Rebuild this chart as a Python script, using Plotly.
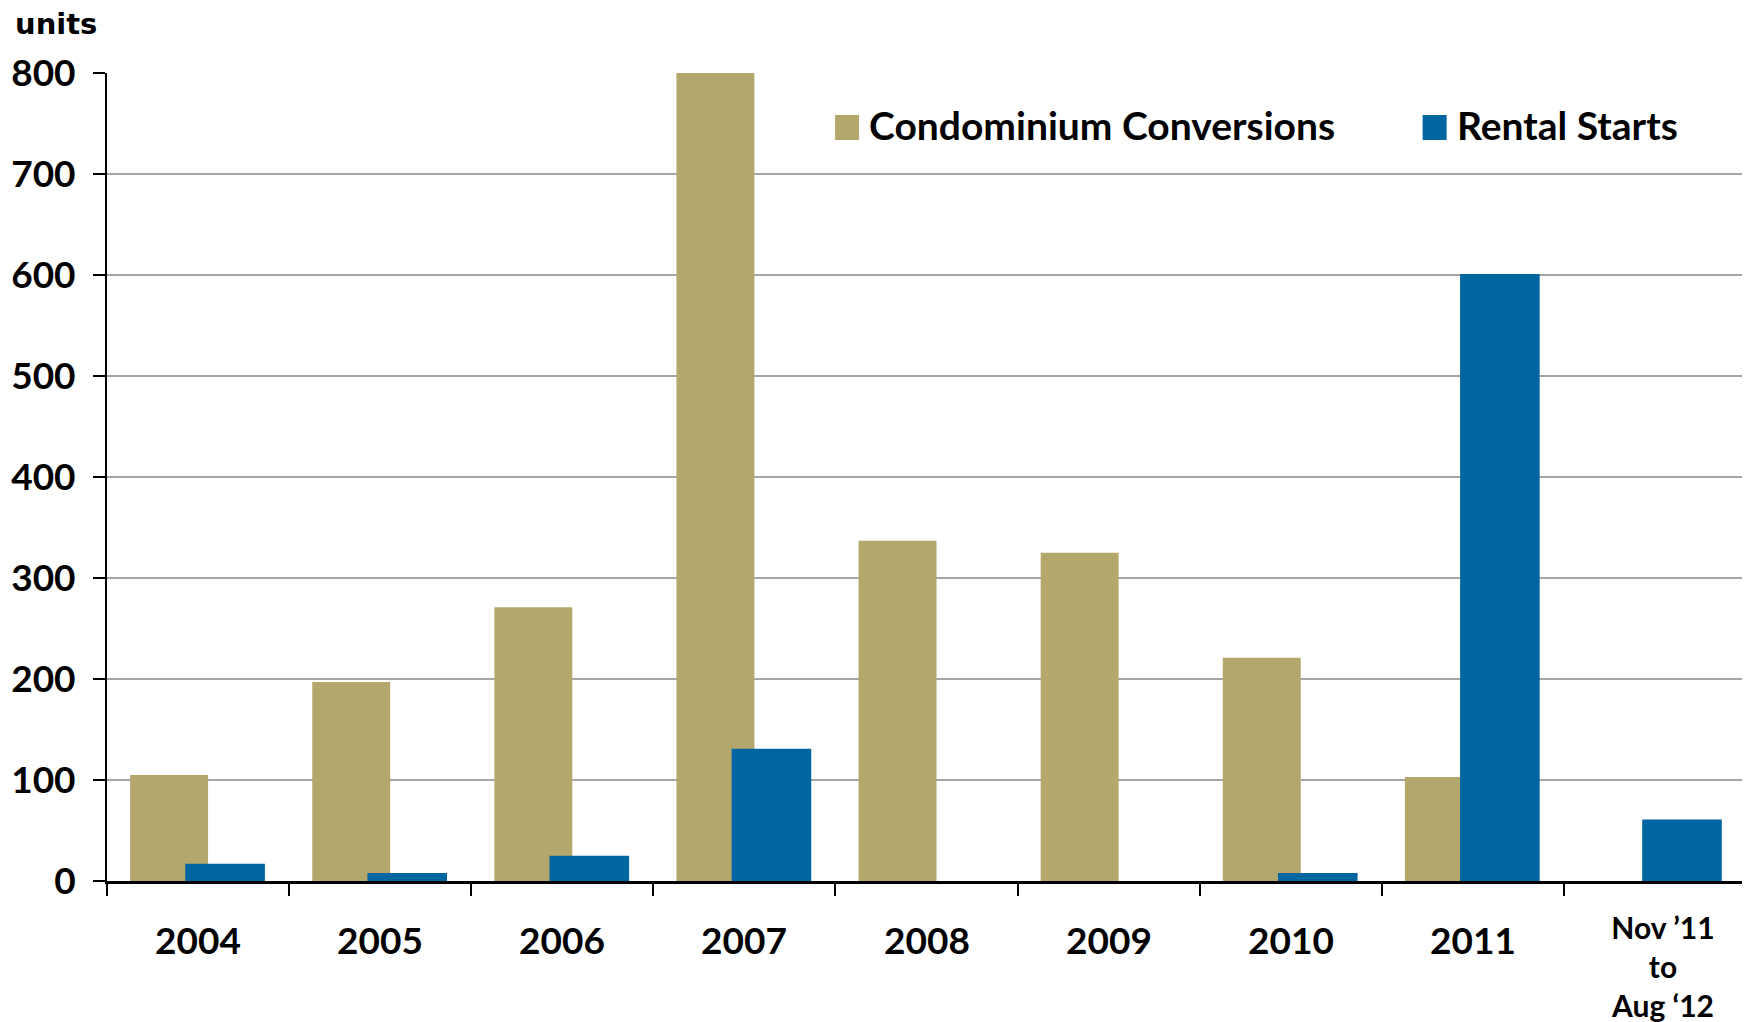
import plotly.graph_objects as go

categories = ["2004", "2005", "2006", "2007", "2008", "2009", "2010", "2011", "Nov11-Aug12"]
tick_labels = ["2004", "2005", "2006", "2007", "2008", "2009", "2010", "2011",
               "Nov \u201911<br>to<br>Aug \u201812"]
condo = [105, 197, 271, 800, 337, 325, 221, 103, 0]
rental = [17, 8, 25, 131, 0, 0, 8, 601, 61]
series_names = ["Condominium Conversions", "Rental Starts"]
y_ticks = [0, 100, 200, 300, 400, 500, 600, 700, 800]

TAN = "#B3A76C"
BLUE = "#0066A1"
GRID = "#A6A6A6"
FONT = "Lato"

fig = go.Figure()
fig.add_trace(go.Bar(x=categories, y=condo, name=series_names[0], marker_color=TAN,
                     marker_line_width=0, width=0.428, offset=-0.373, showlegend=False))
fig.add_trace(go.Bar(x=categories, y=rental, name=series_names[1], marker_color=BLUE,
                     marker_line_width=0, width=0.437, offset=-0.07, showlegend=False))

fig.update_layout(
    width=1742, height=1014,
    margin=dict(l=99, r=4, t=65, b=141, autoexpand=False),
    barmode="overlay",
    plot_bgcolor="white", paper_bgcolor="white",
    font=dict(family=FONT, size=34, color="black"),
    showlegend=False,
)
fig.update_xaxes(
    type="category", categoryorder="array", categoryarray=categories,
    range=[-0.5, len(categories) - 0.5], autorange=False,
    tickmode="array", tickvals=categories, showticklabels=False,
    tickson="boundaries", ticks="outside", ticklen=12, tickwidth=2, tickcolor="black",
    showline=True, linecolor="black", linewidth=3, showgrid=False, automargin=False,
)
fig.update_yaxes(
    range=[0, 800], tickvals=y_ticks, ticks="outside", ticklen=12, tickwidth=2,
    tickcolor="black", showline=True, linecolor="black", linewidth=2,
    showgrid=True, gridcolor=GRID, gridwidth=2, zeroline=False, automargin=False,
    tickfont=dict(family=FONT, size=37, color="black", weight="bold"),
    ticklabelstandoff=10,
)

# category labels under the axis (one per category, placed at the category index)
for i, lab in enumerate(tick_labels):
    multi = "<br>" in lab
    fig.add_annotation(
        text=lab, x=i, xref="x", yref="paper",
        y=-0.1048 if multi else -0.072, yanchor="middle", xanchor="center",
        xshift=8 if multi else 0, showarrow=False,
        font=dict(family=FONT, size=30 if multi else 37, color="black", weight="bold"),
    )

# right border of plot area
fig.add_shape(type="line", xref="paper", yref="paper", x0=1, x1=1, y0=0, y1=1,
              line=dict(color=GRID, width=2))

# axis unit label
fig.add_annotation(text="units", xref="paper", yref="paper", x=-0.0574, y=1.0611,
                   xanchor="left", yanchor="middle", showarrow=False,
                   font=dict(family="DejaVu Sans", size=29, color="black", weight="bold"))

# legend drawn manually (larger swatches than plotly's fixed legend boxes)
legend_items = [(series_names[0], TAN, 0.4442, 0.4637), (series_names[1], BLUE, 0.8027, 0.8227)]
for name, col, xs, xt in legend_items:
    fig.add_shape(type="rect", xref="paper", yref="paper",
                  x0=xs, x1=xs + 24 / 1639, y0=0.9171, y1=0.9480,
                  fillcolor=col, line_width=0)
    fig.add_annotation(text=name, xref="paper", yref="paper", x=xt, y=0.9356,
                       xanchor="left", yanchor="middle", showarrow=False,
                       font=dict(family=FONT, size=39, color="black", weight="bold"))

fig.write_html("out.html")
